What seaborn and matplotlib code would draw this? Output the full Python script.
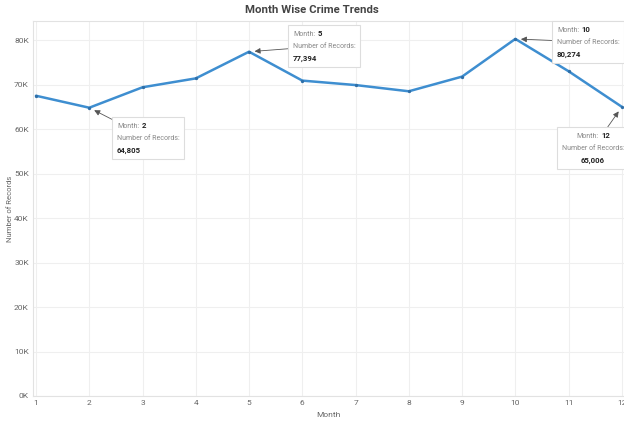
import matplotlib
matplotlib.use("Agg")
import matplotlib.pyplot as plt
from matplotlib.ticker import FuncFormatter, FixedLocator
from matplotlib.offsetbox import TextArea, HPacker, VPacker, AnnotationBbox
import seaborn as sns
import pandas as pd

# Monthly record counts
months = [1, 2, 3, 4, 5, 6, 7, 8, 9, 10, 11, 12]
records = [67500, 64805, 69400, 71400, 77394, 70900, 69900, 68500, 71800, 80274, 73000, 65006]
y_ticks = [0, 10000, 20000, 30000, 40000, 50000, 60000, 70000, 80000]
# Highlighted months for the callouts
callout_months = [2, 5, 10, 12]

df = pd.DataFrame({"Month": months, "Number of Records": records})

sns.set_theme(style="white")
plt.rcParams["font.family"] = ["Roboto", "DejaVu Sans"]

W, H = 624, 421
fig = plt.figure(figsize=(W / 100, H / 100), dpi=100)
left_px, right_px, top_px, bottom_px = 33, 624, 21, 396
ax = fig.add_axes([left_px / W, (H - bottom_px) / H,
                   (right_px - left_px) / W, (bottom_px - top_px) / H])

LINE = "#3e8ed0"
sns.lineplot(data=df, x="Month", y="Number of Records", ax=ax, color=LINE,
             linewidth=1.8, marker="o", markersize=2.4, markeredgewidth=0,
             markerfacecolor="#2f6fa8")

ax.set_xlim(0.944, 12.04)
ax.set_ylim(0, 84300)
ax.xaxis.set_major_locator(FixedLocator(months))
ax.yaxis.set_major_locator(FixedLocator(y_ticks))
ax.yaxis.set_major_formatter(FuncFormatter(lambda v, p: f"{int(v / 1000)}K"))
ax.tick_params(axis="both", labelsize=6, colors="#666666", length=0, pad=3)
ax.grid(True, color="#efefef", linewidth=0.8)
for s in ["left", "bottom", "top"]:
    ax.spines[s].set_color("#e2e2e2")
    ax.spines[s].set_linewidth(0.8)
ax.spines["right"].set_visible(False)

ax.set_xlabel("Month", fontsize=6, color="#666666", labelpad=4)
ax.set_ylabel("Number of Records", fontsize=5.5, color="#666666", labelpad=1)
fig.text(0.5, (H - 10) / H, "Month Wise Crime Trends", ha="center", va="center",
         fontsize=8.2, fontweight="bold", color="#444444")

# Callout boxes: anchor in pixels from the top-left, box alignment, text alignment
box_layout = {
    2: ((117, 138), (0, 0.5), "left"),
    5: ((293, 46), (0, 0.5), "left"),
    10: ((557, 42), (0, 0.5), "left"),
    12: ((593, 132), (0.5, 1), "center"),
}
val_by_month = dict(zip(months, records))
for m in callout_months:
    (bx, by), align, txt_align = box_layout[m]
    v = val_by_month[m]
    lab = dict(fontsize=5.0, color="#888888")
    bold = dict(fontsize=5.6, color="#222222", fontweight="bold")
    row1 = HPacker(children=[TextArea("Month:", textprops=lab),
                             TextArea(str(m), textprops=bold)],
                   align="baseline", pad=0, sep=2)
    pack = VPacker(children=[row1,
                             TextArea("Number of Records:", textprops=lab),
                             TextArea(f"{v:,}", textprops=bold)],
                   align=txt_align, pad=0, sep=3.5)
    ab = AnnotationBbox(pack, (m, v), xybox=(bx, H - by), xycoords="data",
                        boxcoords="figure pixels", box_alignment=align,
                        pad=0.6, annotation_clip=False,
                        bboxprops=dict(edgecolor="#dddddd", facecolor="white",
                                       linewidth=0.8, boxstyle="square"),
                        arrowprops=dict(arrowstyle="-|>", color="#555555",
                                        lw=0.6, mutation_scale=6,
                                        shrinkA=0, shrinkB=4))
    ax.add_artist(ab)

fig.savefig("out.png", dpi=100, facecolor="white")
